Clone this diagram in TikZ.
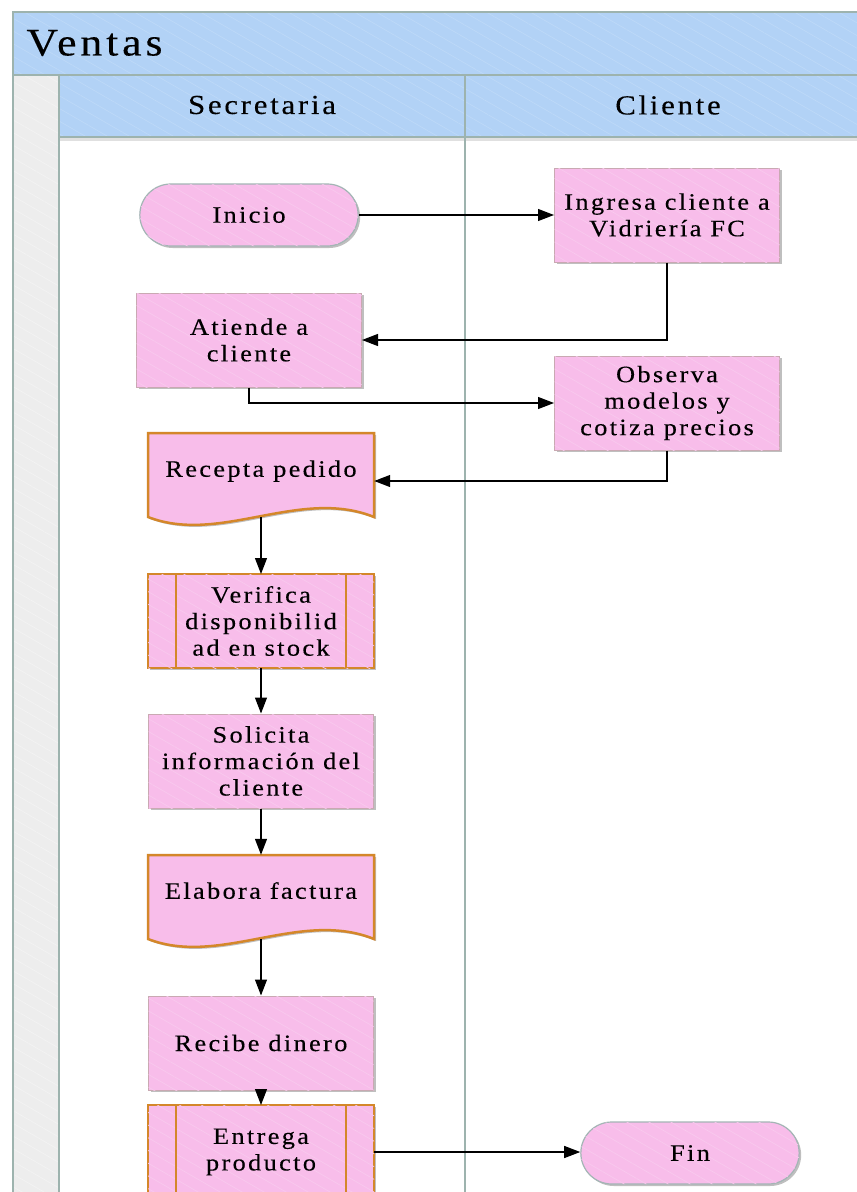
\documentclass[tikz,border=0pt]{standalone}
\usepackage{fontspec}
\setmainfont{Liberation Serif}[LetterSpace=10, FakeStretch=1.12, FakeBold=0.3]
\usetikzlibrary{arrows.meta, positioning, calc, shapes.misc, patterns.meta, shadows}
\definecolor{headblue}{HTML}{B2D2F6}
\definecolor{hatchblue}{HTML}{BDD9F8}
\definecolor{boxpink}{HTML}{F8BDEA}
\definecolor{hatchpink}{HTML}{F9C9EE}
\definecolor{laneline}{HTML}{9DB3AE}
\definecolor{orangeline}{HTML}{D4872A}
\definecolor{boxline}{HTML}{C9A9B2}
\definecolor{termline}{HTML}{A3B5B5}
\definecolor{graycol}{HTML}{EDEDED}
\definecolor{hatchgray}{HTML}{F3F3F3}
\newcommand{\boxfont}{\fontsize{23.5}{26.5}\selectfont}
\newcommand{\lanefont}{\fontsize{27.5}{32}\selectfont}
\newcommand{\titlefont}{\fontsize{39}{44}\selectfont}
\tikzset{
  hatch/.style={postaction={pattern={Lines[angle=-30,distance=11pt,line width=0.7pt]},
                            pattern color=#1}},
  softshadow/.style={drop shadow={shadow xshift=2pt, shadow yshift=-2pt,
                                  opacity=0.25, fill=black}},
  procbox/.style={rectangle, draw=boxline, line width=1pt, fill=boxpink,
                  hatch=hatchpink, softshadow, minimum width=225pt,
                  minimum height=94pt, align=center, font=\boxfont},
  termbox/.style={rounded rectangle, draw=termline, line width=1.2pt, fill=boxpink,
                  hatch=hatchpink, softshadow, minimum width=225pt,
                  minimum height=62pt, font=\boxfont},
  subbox/.style={procbox, draw=orangeline, line width=2.5pt, outer sep=0pt,
                 minimum width=226pt},
  docbox/.style={rectangle, minimum width=226pt, minimum height=84pt,
                 text height=16pt, text depth=12.5pt, align=center, font=\boxfont},
  docline/.style={draw=orangeline, line width=2.5pt, fill=boxpink, softshadow},
  flow/.style={-{Triangle[length=16pt,width=12pt]}, line width=1.2pt, black},
}
\newcommand{\docnode}[4]{%
  \draw[docline, shift={(#2,#3)}] (-113,-42) -- (113,-42) -- (113,42)
     .. controls (39,12) and (-41,70) .. (-113,42) -- cycle;
  \node[docbox] (#1) at (#2,#3) {#4};}
\newcommand{\subnode}[4]{%
  \node[subbox] (#1) at (#2,#3) {#4};
  \draw[orangeline, line width=2.5pt] ([xshift=28pt]#1.north west) -- ([xshift=28pt]#1.south west);
  \draw[orangeline, line width=2.5pt] ([xshift=-28pt]#1.north east) -- ([xshift=-28pt]#1.south east);}

\begin{document}
\begin{tikzpicture}[x=1pt, y=-1pt]
  \clip (0,0) rectangle (857,1192);
  \fill[white] (0,0) rectangle (857,1192);
  % pool and lanes
  \fill[headblue, hatch=hatchblue] (13,12) rectangle (880,137);
  \fill[graycol, hatch=hatchgray] (13,75) rectangle (59,1200);
  \fill[black, opacity=0.12] (59,137) rectangle (880,141);
  \draw[laneline, line width=1.5pt] (13,1200) -- (13,12) -- (880,12);
  \draw[laneline, line width=1.5pt] (13,75) -- (880,75);
  \draw[laneline, line width=1.5pt] (59,75) -- (59,1200);
  \draw[laneline, line width=1.5pt] (465,75) -- (465,1200);
  \draw[laneline, line width=1.5pt] (59,137) -- (880,137);
  \node[anchor=west, font=\titlefont] (pool) at (23,43) {Ventas};
  \node[font=\lanefont] (secretaria) at (262,105) {Secretaria};
  \node[font=\lanefont] (cliente) at (668,105) {Cliente};

  % steps
  \node[termbox] (inicio) at (249,215) {Inicio};
  \node[procbox] (ingresa) at (667,215) {Ingresa cliente a\\Vidriería FC};
  \node[procbox] (atiende) at (249,340) {Atiende a\\cliente};
  \node[procbox] (observa) at (667,403) {Observa\\modelos y\\cotiza precios};
  \docnode{recepta}{261}{475}{Recepta pedido}
  \subnode{verifica}{261}{621}{Verifica\\disponibilid\\ad en stock}
  \node[procbox] (solicita) at (261,761) {Solicita\\información del\\cliente};
  \docnode{elabora}{261}{897}{Elabora factura}
  \node[procbox] (recibe) at (261,1043) {Recibe dinero};
  \subnode{entrega}{261}{1152}{Entrega\\producto}
  \node[termbox] (fin) at (690,1153) {Fin};

  % connectors
  \draw[flow] (inicio.east) -- (ingresa.west);
  \draw[flow] (ingresa.south) |- (atiende.east);
  \draw[flow] (atiende.south) |- (observa.west);
  \draw[flow] (observa.south) |- ([yshift=-6pt]recepta.east);
  \draw[flow] (recepta.south) -- (verifica.north);
  \draw[flow] (verifica.south) -- (solicita.north);
  \draw[flow] (solicita.south) -- (elabora.north);
  \draw[flow] (elabora.south) -- (recibe.north);
  \draw[flow] (recibe.south) -- (entrega.north);
  \draw[flow] (entrega.east) -- (entrega.east -| fin.west);
\end{tikzpicture}
\end{document}
